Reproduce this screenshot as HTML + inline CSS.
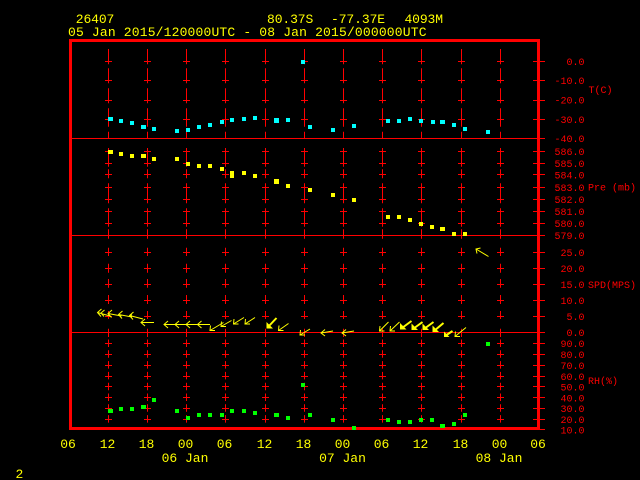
<!DOCTYPE html>
<html><head><meta charset="utf-8"><style>
html,body{margin:0;padding:0;background:#000;}
svg{display:block;}
.t13{font-family:"Liberation Mono",monospace;font-size:13px;fill:#ffff00;}
.t10{font-family:"Liberation Mono",monospace;font-size:10px;fill:#ff0000;}
</style></head><body>
<svg width="640" height="480" viewBox="0 0 640 480" xmlns="http://www.w3.org/2000/svg">
<rect x="0" y="0" width="640" height="480" fill="#000"/>

<g stroke="#ff0000" stroke-width="1" stroke-dasharray="15.3 4 15 5 15 5 18.4 5 7">
<line x1="108.5" y1="49" x2="108.5" y2="138"/><line x1="147.5" y1="49" x2="147.5" y2="138"/><line x1="186.5" y1="49" x2="186.5" y2="138"/><line x1="225.5" y1="49" x2="225.5" y2="138"/><line x1="265.5" y1="49" x2="265.5" y2="138"/><line x1="304.5" y1="49" x2="304.5" y2="138"/><line x1="343.5" y1="49" x2="343.5" y2="138"/><line x1="382.5" y1="49" x2="382.5" y2="138"/><line x1="421.5" y1="49" x2="421.5" y2="138"/><line x1="461.5" y1="49" x2="461.5" y2="138"/><line x1="500.5" y1="49" x2="500.5" y2="138"/>
</g>
<g stroke="#ff0000" stroke-width="1" stroke-dasharray="18.7 2.6 9 5 20 5 18.4 2.6 10">
<line x1="108.5" y1="148" x2="108.5" y2="235"/><line x1="147.5" y1="148" x2="147.5" y2="235"/><line x1="186.5" y1="148" x2="186.5" y2="235"/><line x1="225.5" y1="148" x2="225.5" y2="235"/><line x1="265.5" y1="148" x2="265.5" y2="235"/><line x1="304.5" y1="148" x2="304.5" y2="235"/><line x1="343.5" y1="148" x2="343.5" y2="235"/><line x1="382.5" y1="148" x2="382.5" y2="235"/><line x1="421.5" y1="148" x2="421.5" y2="235"/><line x1="461.5" y1="148" x2="461.5" y2="235"/><line x1="500.5" y1="148" x2="500.5" y2="235"/>
</g>
<g stroke="#ff0000" stroke-width="1" stroke-dasharray="2.7 9 8.3 7.7 9 6.3 8.7 7.3 9 7 8 9.7 10">
<line x1="108.5" y1="236" x2="108.5" y2="328.7"/><line x1="147.5" y1="236" x2="147.5" y2="328.7"/><line x1="186.5" y1="236" x2="186.5" y2="328.7"/><line x1="225.5" y1="236" x2="225.5" y2="328.7"/><line x1="265.5" y1="236" x2="265.5" y2="328.7"/><line x1="304.5" y1="236" x2="304.5" y2="328.7"/><line x1="343.5" y1="236" x2="343.5" y2="328.7"/><line x1="382.5" y1="236" x2="382.5" y2="328.7"/><line x1="421.5" y1="236" x2="421.5" y2="328.7"/><line x1="461.5" y1="236" x2="461.5" y2="328.7"/><line x1="500.5" y1="236" x2="500.5" y2="328.7"/>
</g>
<g stroke="#ff0000" stroke-width="1" stroke-dasharray="8.3 2.5 7.5 3.3 7.5 3.3 7.5 3.3 7.5 3.3 7.5 3.3 7.5 3.3 7.5 3.3 7.5 20">
<line x1="108.5" y1="328.7" x2="108.5" y2="423"/><line x1="147.5" y1="328.7" x2="147.5" y2="423"/><line x1="186.5" y1="328.7" x2="186.5" y2="423"/><line x1="225.5" y1="328.7" x2="225.5" y2="423"/><line x1="265.5" y1="328.7" x2="265.5" y2="423"/><line x1="304.5" y1="328.7" x2="304.5" y2="423"/><line x1="343.5" y1="328.7" x2="343.5" y2="423"/><line x1="382.5" y1="328.7" x2="382.5" y2="423"/><line x1="421.5" y1="328.7" x2="421.5" y2="423"/><line x1="461.5" y1="328.7" x2="461.5" y2="423"/><line x1="500.5" y1="328.7" x2="500.5" y2="423"/>
</g>

<g stroke="#ff0000" stroke-width="1" fill="none">
<path d="M105 61.5h7M144 61.5h7M183 61.5h7M222 61.5h7M262 61.5h7M301 61.5h7M340 61.5h7M379 61.5h7M418 61.5h7M458 61.5h7M497 61.5h7M533 61.5h12"/>
<path d="M105 80.5h7M144 80.5h7M183 80.5h7M222 80.5h7M262 80.5h7M301 80.5h7M340 80.5h7M379 80.5h7M418 80.5h7M458 80.5h7M497 80.5h7M533 80.5h12"/>
<path d="M105 100.5h7M144 100.5h7M183 100.5h7M222 100.5h7M262 100.5h7M301 100.5h7M340 100.5h7M379 100.5h7M418 100.5h7M458 100.5h7M497 100.5h7M533 100.5h12"/>
<path d="M105 119.5h7M144 119.5h7M183 119.5h7M222 119.5h7M262 119.5h7M301 119.5h7M340 119.5h7M379 119.5h7M418 119.5h7M458 119.5h7M497 119.5h7M533 119.5h12"/>
<path d="M533 138.5h12"/>
<path d="M105 151.5h7M144 151.5h7M183 151.5h7M222 151.5h7M262 151.5h7M301 151.5h7M340 151.5h7M379 151.5h7M418 151.5h7M458 151.5h7M497 151.5h7M533 151.5h12"/>
<path d="M105 163.5h7M144 163.5h7M183 163.5h7M222 163.5h7M262 163.5h7M301 163.5h7M340 163.5h7M379 163.5h7M418 163.5h7M458 163.5h7M497 163.5h7M533 163.5h12"/>
<path d="M105 174.5h7M144 174.5h7M183 174.5h7M222 174.5h7M262 174.5h7M301 174.5h7M340 174.5h7M379 174.5h7M418 174.5h7M458 174.5h7M497 174.5h7M533 174.5h12"/>
<path d="M105 187.5h7M144 187.5h7M183 187.5h7M222 187.5h7M262 187.5h7M301 187.5h7M340 187.5h7M379 187.5h7M418 187.5h7M458 187.5h7M497 187.5h7M533 187.5h12"/>
<path d="M105 199.5h7M144 199.5h7M183 199.5h7M222 199.5h7M262 199.5h7M301 199.5h7M340 199.5h7M379 199.5h7M418 199.5h7M458 199.5h7M497 199.5h7M533 199.5h12"/>
<path d="M105 211.5h7M144 211.5h7M183 211.5h7M222 211.5h7M262 211.5h7M301 211.5h7M340 211.5h7M379 211.5h7M418 211.5h7M458 211.5h7M497 211.5h7M533 211.5h12"/>
<path d="M105 223.5h7M144 223.5h7M183 223.5h7M222 223.5h7M262 223.5h7M301 223.5h7M340 223.5h7M379 223.5h7M418 223.5h7M458 223.5h7M497 223.5h7M533 223.5h12"/>
<path d="M533 235.5h12"/>
<path d="M105 252.5h7M144 252.5h7M183 252.5h7M222 252.5h7M262 252.5h7M301 252.5h7M340 252.5h7M379 252.5h7M418 252.5h7M458 252.5h7M497 252.5h7M533 252.5h12"/>
<path d="M105 268.5h7M144 268.5h7M183 268.5h7M222 268.5h7M262 268.5h7M301 268.5h7M340 268.5h7M379 268.5h7M418 268.5h7M458 268.5h7M497 268.5h7M533 268.5h12"/>
<path d="M105 284.5h7M144 284.5h7M183 284.5h7M222 284.5h7M262 284.5h7M301 284.5h7M340 284.5h7M379 284.5h7M418 284.5h7M458 284.5h7M497 284.5h7M533 284.5h12"/>
<path d="M105 300.5h7M144 300.5h7M183 300.5h7M222 300.5h7M262 300.5h7M301 300.5h7M340 300.5h7M379 300.5h7M418 300.5h7M458 300.5h7M497 300.5h7M533 300.5h12"/>
<path d="M105 316.5h7M144 316.5h7M183 316.5h7M222 316.5h7M262 316.5h7M301 316.5h7M340 316.5h7M379 316.5h7M418 316.5h7M458 316.5h7M497 316.5h7M533 316.5h12"/>
<path d="M533 332.5h12"/>
<path d="M105 343.5h7M144 343.5h7M183 343.5h7M222 343.5h7M262 343.5h7M301 343.5h7M340 343.5h7M379 343.5h7M418 343.5h7M458 343.5h7M497 343.5h7M533 343.5h12"/>
<path d="M105 354.5h7M144 354.5h7M183 354.5h7M222 354.5h7M262 354.5h7M301 354.5h7M340 354.5h7M379 354.5h7M418 354.5h7M458 354.5h7M497 354.5h7M533 354.5h12"/>
<path d="M105 365.5h7M144 365.5h7M183 365.5h7M222 365.5h7M262 365.5h7M301 365.5h7M340 365.5h7M379 365.5h7M418 365.5h7M458 365.5h7M497 365.5h7M533 365.5h12"/>
<path d="M105 376.5h7M144 376.5h7M183 376.5h7M222 376.5h7M262 376.5h7M301 376.5h7M340 376.5h7M379 376.5h7M418 376.5h7M458 376.5h7M497 376.5h7M533 376.5h12"/>
<path d="M105 386.5h7M144 386.5h7M183 386.5h7M222 386.5h7M262 386.5h7M301 386.5h7M340 386.5h7M379 386.5h7M418 386.5h7M458 386.5h7M497 386.5h7M533 386.5h12"/>
<path d="M105 397.5h7M144 397.5h7M183 397.5h7M222 397.5h7M262 397.5h7M301 397.5h7M340 397.5h7M379 397.5h7M418 397.5h7M458 397.5h7M497 397.5h7M533 397.5h12"/>
<path d="M105 408.5h7M144 408.5h7M183 408.5h7M222 408.5h7M262 408.5h7M301 408.5h7M340 408.5h7M379 408.5h7M418 408.5h7M458 408.5h7M497 408.5h7M533 408.5h12"/>
<path d="M105 419.5h7M144 419.5h7M183 419.5h7M222 419.5h7M262 419.5h7M301 419.5h7M340 419.5h7M379 419.5h7M418 419.5h7M458 419.5h7M497 419.5h7M533 419.5h12"/>
<path d="M533 429.5h12"/>
<path d="M70 138.5H538M70 235.5H538M70 332.5H538"/>
</g>

<rect x="70.5" y="40.5" width="468" height="388" fill="none" stroke="#ff0000" stroke-width="3"/>

<text class="t13" x="75.8" y="23" textLength="38.5" lengthAdjust="spacing">26407</text>
<text class="t13" x="267" y="23" textLength="46.3" lengthAdjust="spacing">80.37S</text>
<text class="t13" x="331" y="23" textLength="54.1" lengthAdjust="spacing">-77.37E</text>
<text class="t13" x="404.5" y="23" textLength="38.5" lengthAdjust="spacing">4093M</text>
<text class="t13" x="68" y="36" textLength="358.5" lengthAdjust="spacing">05 Jan 2015/120000UTC - 08 Jan 2015/000000UTC</text>

<g class="t10" text-anchor="end">
<text x="584.5" y="65">0.0</text>
<text x="584.5" y="84">-10.0</text>
<text x="584.5" y="103.5">-20.0</text>
<text x="584.5" y="123">-30.0</text>
<text x="584.5" y="142">-40.0</text>
<text x="584.5" y="155.2">586.0</text>
<text x="584.5" y="167">585.0</text>
<text x="584.5" y="178.5">584.0</text>
<text x="584.5" y="191">583.0</text>
<text x="584.5" y="203">582.0</text>
<text x="584.5" y="215">581.0</text>
<text x="584.5" y="227">580.0</text>
<text x="584.5" y="239">579.0</text>
<text x="584.5" y="256">25.0</text>
<text x="584.5" y="272">20.0</text>
<text x="584.5" y="288">15.0</text>
<text x="584.5" y="304">10.0</text>
<text x="584.5" y="320">5.0</text>
<text x="584.5" y="336">0.0</text>
<text x="584.5" y="347">90.0</text>
<text x="584.5" y="358">80.0</text>
<text x="584.5" y="369">70.0</text>
<text x="584.5" y="380">60.0</text>
<text x="584.5" y="390.5">50.0</text>
<text x="584.5" y="401.5">40.0</text>
<text x="584.5" y="412">30.0</text>
<text x="584.5" y="423">20.0</text>
<text x="584.5" y="433.5">10.0</text>
</g>
<g class="t10">
<text x="588.5" y="93">T(C)</text>
<text x="588" y="190.5">Pre (mb)</text>
<text x="588" y="288">SPD(MPS)</text>
<text x="588" y="384">RH(%)</text>
</g>

<g class="t13" text-anchor="middle">
<text x="68" y="448">06</text>
<text x="107.5" y="448">12</text>
<text x="146.5" y="448">18</text>
<text x="185.5" y="448">00</text>
<text x="224.5" y="448">06</text>
<text x="264.5" y="448">12</text>
<text x="303.5" y="448">18</text>
<text x="342.5" y="448">00</text>
<text x="381.5" y="448">06</text>
<text x="420.5" y="448">12</text>
<text x="460.5" y="448">18</text>
<text x="499.5" y="448">00</text>
<text x="538" y="448">06</text>
<text x="185" y="462">06 Jan</text>
<text x="342.5" y="462">07 Jan</text>
<text x="499" y="462">08 Jan</text>
</g>
<text class="t13" x="15.5" y="478">2</text>

<g fill="#00ffff">
<rect x="108" y="117" width="5" height="4"/><rect x="119" y="119" width="4" height="4"/><rect x="130" y="121" width="4" height="4"/><rect x="141" y="125" width="5" height="4"/><rect x="152" y="127" width="4" height="4"/><rect x="175" y="129" width="4" height="4"/><rect x="186" y="128" width="4" height="4"/><rect x="197" y="125" width="4" height="4"/><rect x="208" y="123" width="4" height="4"/><rect x="220" y="120" width="4" height="4"/><rect x="230" y="118" width="4" height="4"/><rect x="242" y="117" width="4" height="4"/><rect x="253" y="116" width="4" height="4"/><rect x="274" y="118" width="5" height="5"/><rect x="286" y="118" width="4" height="4"/><rect x="301" y="60" width="4" height="4"/><rect x="308" y="125" width="4" height="4"/><rect x="331" y="128" width="4" height="4"/><rect x="352" y="124" width="4" height="4"/><rect x="386" y="119" width="4" height="4"/><rect x="397" y="119" width="4" height="4"/><rect x="408" y="117" width="4" height="4"/><rect x="419" y="119" width="4" height="4"/><rect x="431" y="120" width="4" height="4"/><rect x="440" y="120" width="5" height="4"/><rect x="452" y="123" width="4" height="4"/><rect x="463" y="127" width="4" height="4"/><rect x="486" y="130" width="4" height="4"/>
</g>
<g fill="#ffff00">
<rect x="108" y="150" width="5" height="4"/><rect x="119" y="152" width="4" height="4"/><rect x="130" y="154" width="4" height="4"/><rect x="141" y="154" width="5" height="4"/><rect x="152" y="157" width="4" height="4"/><rect x="175" y="157" width="4" height="4"/><rect x="186" y="162" width="4" height="4"/><rect x="197" y="164" width="4" height="4"/><rect x="208" y="164" width="4" height="4"/><rect x="220" y="167" width="4" height="4"/><rect x="230" y="171" width="4" height="7"/><rect x="242" y="171" width="4" height="4"/><rect x="253" y="174" width="4" height="4"/><rect x="274" y="179" width="5" height="5"/><rect x="286" y="184" width="4" height="4"/><rect x="308" y="188" width="4" height="4"/><rect x="331" y="193" width="4" height="4"/><rect x="352" y="198" width="4" height="4"/><rect x="386" y="215" width="4" height="4"/><rect x="397" y="215" width="4" height="4"/><rect x="408" y="218" width="4" height="4"/><rect x="419" y="222" width="4" height="4"/><rect x="430" y="225" width="4" height="4"/><rect x="440" y="227" width="5" height="4"/><rect x="452" y="232" width="4" height="4"/><rect x="463" y="232" width="4" height="4"/>
</g>
<g fill="#00ff00">
<rect x="108" y="409" width="5" height="4"/><rect x="119" y="407" width="4" height="4"/><rect x="130" y="407" width="4" height="4"/><rect x="141" y="405" width="5" height="4"/><rect x="152" y="398" width="4" height="4"/><rect x="175" y="409" width="4" height="4"/><rect x="186" y="416" width="4" height="4"/><rect x="197" y="413" width="4" height="4"/><rect x="208" y="413" width="4" height="4"/><rect x="220" y="413" width="4" height="4"/><rect x="230" y="409" width="4" height="4"/><rect x="242" y="409" width="4" height="4"/><rect x="253" y="411" width="4" height="4"/><rect x="274" y="413" width="5" height="4"/><rect x="286" y="416" width="4" height="4"/><rect x="301" y="383" width="4" height="4"/><rect x="308" y="413" width="4" height="4"/><rect x="331" y="418" width="4" height="4"/><rect x="352" y="426" width="4" height="4"/><rect x="386" y="418" width="4" height="4"/><rect x="397" y="420" width="4" height="4"/><rect x="408" y="420" width="4" height="4"/><rect x="419" y="418" width="4" height="4"/><rect x="430" y="418" width="4" height="4"/><rect x="440" y="424" width="5" height="4"/><rect x="452" y="422" width="4" height="4"/><rect x="463" y="413" width="4" height="4"/><rect x="486" y="342" width="4" height="4"/>
</g>

<g stroke="#ffff00" stroke-width="1" fill="none">
<path d="M110 316L97.5 312.5M101.5 309L97.5 312.5L101 316.5M104.5 310L101 313L104 316.5"/>
<path d="M121.5 316L108 313.5M112 310L108 313.5L111.5 317.5"/>
<path d="M132 317L118.5 314.5M122.5 311L118.5 314.5L122 318.5"/>
<path d="M143 319L129.5 315.5M133.5 312L129.5 315.5L133 319.5M131.5 313.5L131 317.5"/>
<path d="M154 322.5L141 322.5M145 319L141 322.5L145 326"/>
<path d="M177 324.5L164 324.5M168 321L164 324.5L168 328"/>
<path d="M188 324.5L175 324.5M179 321L175 324.5L179 328"/>
<path d="M199 324.5L186 324.5M190 321L186 324.5L190 328"/>
<path d="M210 324.5L197.5 324.5M201.5 321L197.5 324.5L201.5 328"/>
<path d="M223.5 322.5L210 330.5M210.5 325.5L210 330.5L215 330.5"/>
<path d="M231.5 320.5L221 326.5M221.5 321.5L221 326.5L226 326.5"/>
<path d="M244 317.5L233.5 324M234 319L233.5 324L238.5 324"/>
<path d="M255 317.5L245 324M245.5 319L245 324L250 324"/>
<path d="M288.5 323.5L278.5 330.5M279 325.5L278.5 330.5L283.5 330.5"/>
<path d="M310 329L300 335M300.5 330L300 335L305 335"/>
<path d="M333 331L321 333M325 329.5L321 333L325 336"/>
<path d="M354 331L342 333M346 329.5L342 333L346 336"/>
<path d="M388.5 322L379.5 331M380 326L379.5 331L384.5 331"/>
<path d="M399.5 322L390 331M390.5 326L390 331L395 331"/>
<path d="M466 327.5L455 336.5M455.5 331.5L455 336.5L460 336.5"/>
<path d="M488.5 256.5L476 249M477 253.5L476 249L480.5 248"/>
</g>
<g stroke="#ffff00" stroke-width="2" fill="none">
<path d="M276.5 318L268 327"/>
<path d="M411.5 321L402 328"/>
<path d="M422.5 322L413 329"/>
<path d="M433.5 322L424 329"/>
<path d="M443.5 323L434 331"/>
<path d="M452.5 331L445 336"/>
</g>
<g fill="#ffff00">
<polygon points="266.5,328.5 273,328.5 266.5,322"/>
<polygon points="400,329.5 406.5,329.5 400,323"/>
<polygon points="411.5,330 418,330 411.5,323.5"/>
<polygon points="422.5,330 429,330 422.5,323.5"/>
<polygon points="432.5,332 439,332 432.5,325.5"/>
<polygon points="444,337 449.5,337 444,331.5"/>
</g>
</svg>
</body></html>
